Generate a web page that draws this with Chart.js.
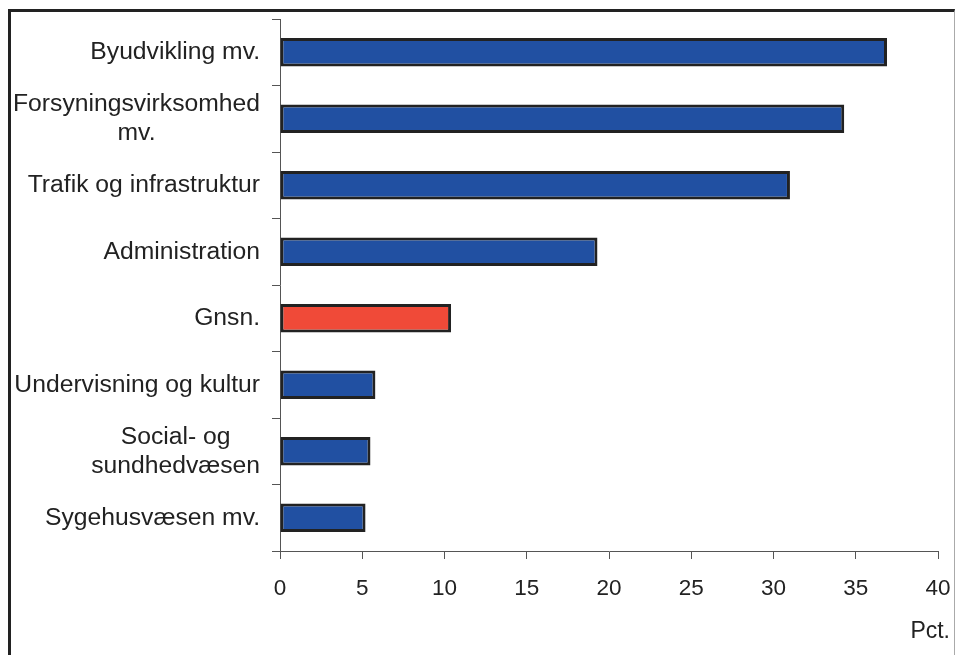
<!DOCTYPE html>
<html>
<head>
<meta charset="utf-8">
<script src="https://cdn.jsdelivr.net/npm/chart.js@4/dist/chart.umd.min.js"></script>
<style>
  html, body { margin: 0; padding: 0; background: #fff; }
  #wrap { position: relative; width: 955px; height: 655px; overflow: hidden; }
  #frame {
    position: absolute; left: 8px; top: 9px; width: 943px; height: 700px;
    border-left: 3px solid #222; border-top: 3px solid #222; border-right: 1px solid #aaa;
  }
  #chart { position: absolute; left: 0; top: 0; }
</style>
</head>
<body>
<div id="wrap">
  <div id="frame"></div>
  <canvas id="chart" width="955" height="655"></canvas>
</div>
<script>
// Categories (multi-line labels as arrays) and their values in percent
const categories = [
  'Byudvikling mv.',
  ['Forsyningsvirksomhed', 'mv.'],
  'Trafik og infrastruktur',
  'Administration',
  'Gnsn.',
  'Undervisning og kultur',
  ['Social- og', 'sundhedvæsen'],
  'Sygehusvæsen mv.'
];
const values = [36.9, 34.3, 31.0, 19.3, 10.4, 5.8, 5.5, 5.2];
const xTicks = [0, 5, 10, 15, 20, 25, 30, 35, 40];

const BLUE = '#2150a2';
const RED = '#f04a38';
const barColors = categories.map(c => c === 'Gnsn.' ? RED : BLUE);

const FONT_FAMILY = '"Liberation Sans", Arial, sans-serif';

// Category labels: right-aligned block, lines centred within the block
const categoryLabels = {
  id: 'categoryLabels',
  afterDraw(chart) {
    const ctx = chart.ctx;
    const yScale = chart.scales.y;
    const rightEdge = 260;
    const lineH = 29;
    ctx.save();
    ctx.font = '24.7px ' + FONT_FAMILY;
    ctx.fillStyle = '#222';
    ctx.textBaseline = 'middle';
    ctx.textAlign = 'center';
    categories.forEach((label, i) => {
      const lines = Array.isArray(label) ? label : [label];
      const w = Math.max(...lines.map(l => ctx.measureText(l).width));
      const cx = rightEdge - w / 2;
      const cy = yScale.getPixelForValue(i);
      const y0 = cy - (lines.length - 1) * lineH / 2;
      lines.forEach((l, k) => ctx.fillText(l, cx, y0 + k * lineH));
    });
    // unit text under the x axis
    ctx.font = '23px ' + FONT_FAMILY;
    ctx.textAlign = 'right';
    ctx.fillText('Pct.', 950, 632);
    ctx.restore();
  }
};

new Chart(document.getElementById('chart'), {
  type: 'bar',
  data: {
    labels: categories,
    datasets: [{
      data: values,
      backgroundColor: barColors,
      borderColor: '#222',
      borderWidth: 3,
      borderSkipped: false,
      barPercentage: 0.43,
      categoryPercentage: 1
    }]
  },
  options: {
    indexAxis: 'y',
    responsive: false,
    animation: false,
    layout: { padding: { top: 19, right: 17, left: 0, bottom: 0 } },
    plugins: { legend: { display: false }, tooltip: { enabled: false } },
    scales: {
      x: {
        min: 0,
        max: 40,
        afterBuildTicks(scale) { scale.ticks = xTicks.map(v => ({ value: v })); },
        afterFit(scale) {
          scale.height = 104;
          scale.paddingLeft = 0;
          scale.paddingRight = 0;
        },
        grid: { drawOnChartArea: false, drawTicks: true, tickLength: 8, color: '#555' },
        border: { display: true, color: '#555', width: 1 },
        ticks: {
          padding: 16,
          color: '#222',
          font: { family: FONT_FAMILY, size: 22.5 }
        }
      },
      y: {
        offset: true,
        afterFit(scale) { scale.width = 280; },
        grid: { offset: true, drawOnChartArea: false, drawTicks: true, tickLength: 8, color: '#555' },
        border: { display: true, color: '#555', width: 1 },
        ticks: { display: false }
      }
    }
  },
  plugins: [categoryLabels]
});
</script>
</body>
</html>
